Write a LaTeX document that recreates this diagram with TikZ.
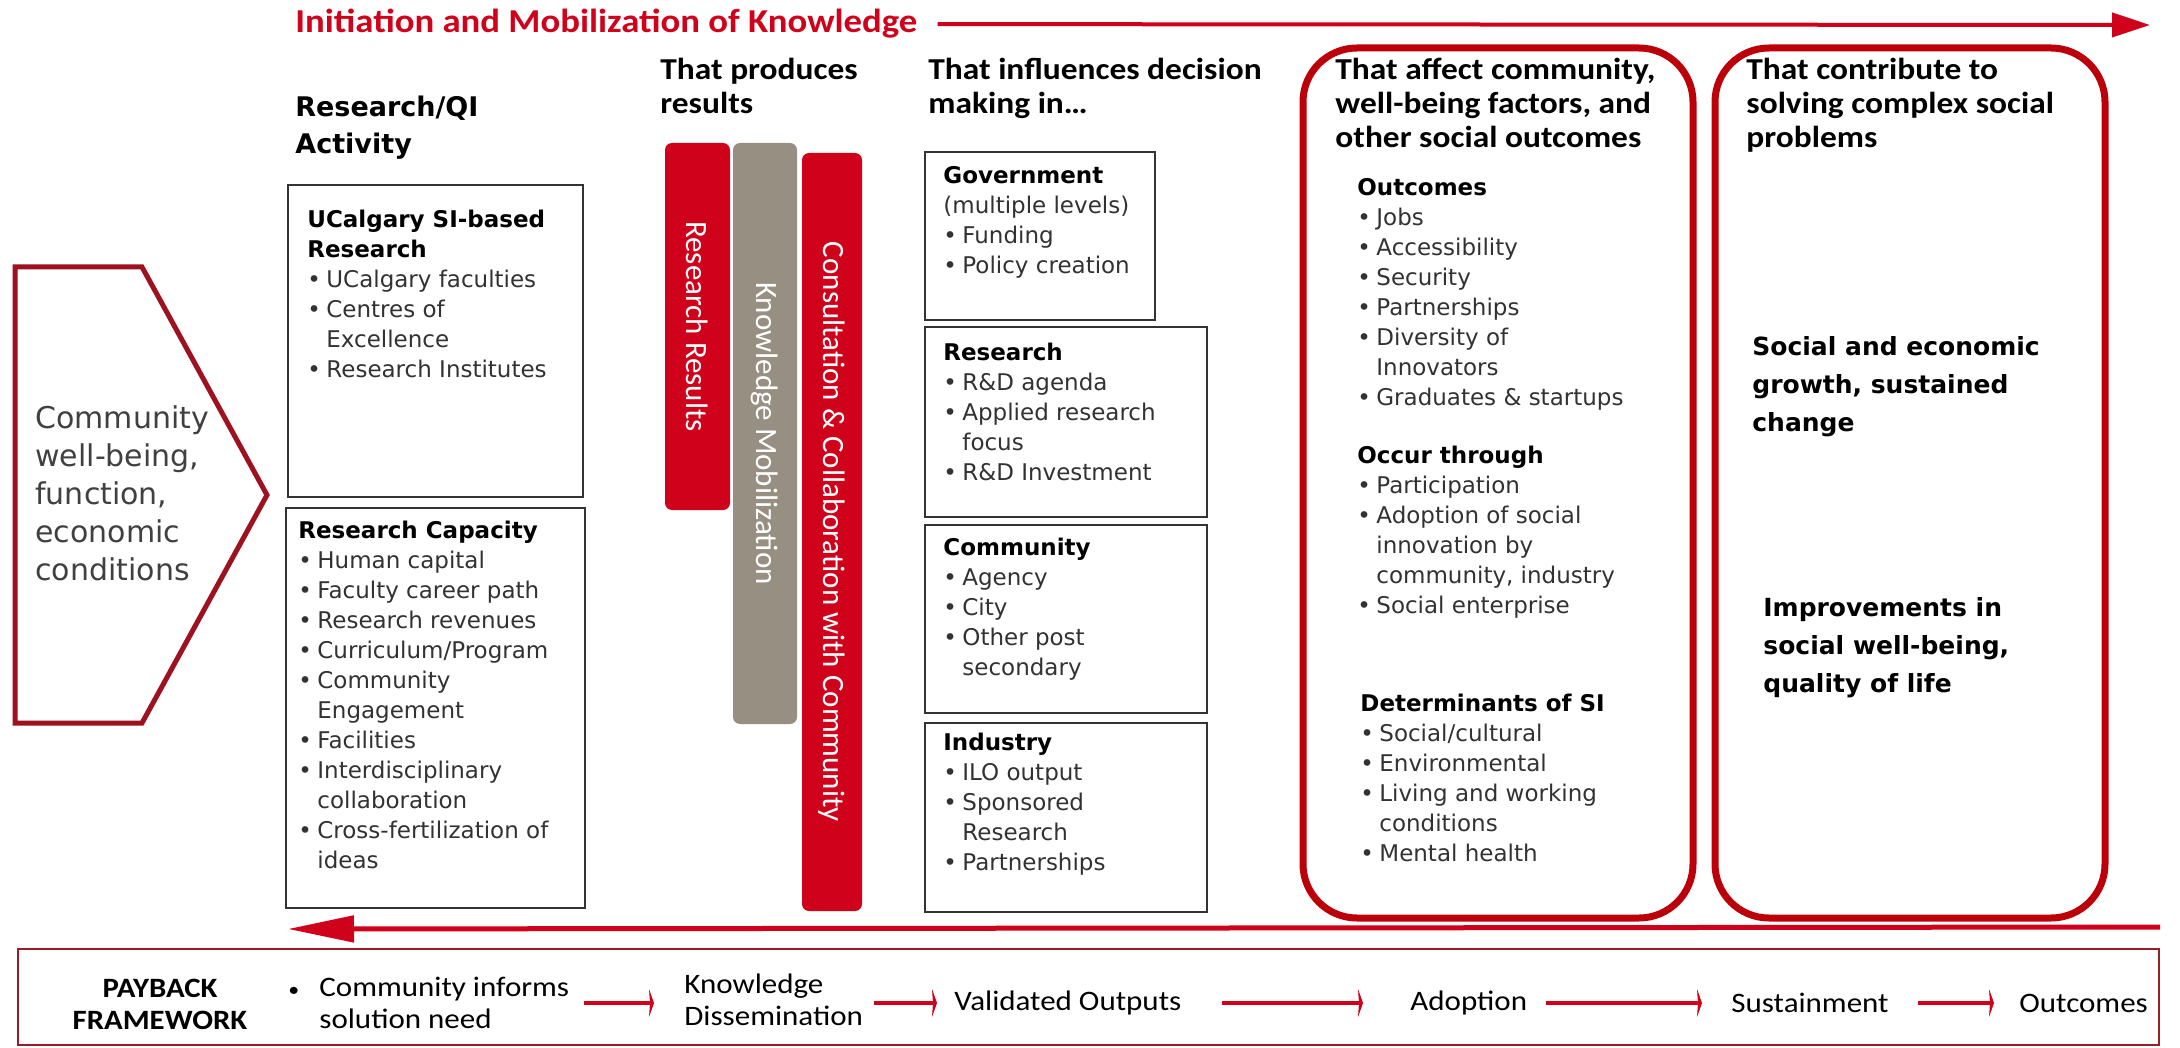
\documentclass[tikz,border=0pt]{standalone}
\usepackage{fontspec}
\setmainfont{DejaVu Sans}
\newfontfamily\calib{Carlito}[FakeStretch=1.1]
\newfontfamily\calibn{Carlito}
\usetikzlibrary{arrows.meta}
\definecolor{ured}{RGB}{208,2,27}
\definecolor{dred}{RGB}{188,0,10}
\definecolor{pred}{RGB}{158,18,32}
\definecolor{ugray}{RGB}{150,143,130}
\definecolor{txt}{RGB}{50,50,50}
\newcommand{\bl}{\makebox[9.5pt][l]{\textbullet}}
\newcommand{\bi}{\hspace*{9.5pt}}
\newcommand{\hd}[1]{\textcolor{black}{\bfseries #1}}
\tikzset{%
    hdr/.style={anchor=north west, inner sep=0pt, align=left, font=\calib\bfseries\fontsize{15.2}{17}\selectfont},
    box/.style={draw=black!80, line width=1.1pt},
    boxt/.style={anchor=north west, inner sep=0pt, align=left, text=txt, font=\fontsize{11.5}{15}\selectfont},
    bar/.style={rounded corners=3.5pt, rotate=-90, inner sep=0pt, text=white, font=\calibn\fontsize{15.5}{16}\selectfont},
    rbox/.style={draw=dred, line width=3.5pt, rounded corners=27pt},
    big/.style={anchor=north west, inner sep=0pt, align=left, font=\bfseries\fontsize{12.5}{19}\selectfont},
    pbt/.style={inner sep=0pt, align=left, font=\calib\fontsize{14.1}{16}\selectfont},
    pba/.style={draw=ured, line width=2pt, -{Stealth[length=2.5pt,width=14pt,inset=0.5pt]}},
}

\begin{document}
\begin{tikzpicture}[x=0.5pt,y=-0.5pt]
    \fill[white] (0,0) rectangle (2180,1048);
    \useasboundingbox (0,0) rectangle (2180,1048);
    % top arrow
    \node[anchor=base west, inner sep=0pt, text=ured, font=\calib\bfseries\fontsize{16.7}{18}\selectfont] (ttl) at (295,33) {Initiation and Mobilization of Knowledge};
    \coordinate (ttlend) at (2150,25);
    \draw[ured, line width=2pt, shorten <=10pt, -{Triangle[length=19pt,width=12pt]}] (ttl.east) -- (ttlend);
    % column heads
    \node[anchor=north west, inner sep=0pt, align=left, font=\bfseries\fontsize{13.5}{18.5}\selectfont] (rqi) at (295,96) {Research/QI\\Activity};
    \node[hdr] (hdprod) at (660,58) {That produces\\results};
    \node[hdr] (hdinf) at (928,58) {That influences decision\\making in…};
    \node[hdr] (hdaff) at (1335,58) {That affect community,\\well-being factors, and\\other social outcomes};
    \node[hdr] (hdcon) at (1746,58) {That contribute to\\solving complex social\\problems};
    % community pentagon
    \draw[pred, line width=2.5pt, line join=miter] (15,267) -- (142,267) -- (267,495) -- (142,723) -- (15,723) -- cycle;
    \node[anchor=north west, inner sep=0pt, align=left, text=black!75, font=\fontsize{15}{19}\selectfont] (cwb) at (35,405) {Community\\well-being,\\function,\\economic\\conditions};
    % research activity
    \draw[box] (288,185) rectangle (583,497);
    \node[boxt] (ucsi) at (307,210) {\hd{UCalgary SI-based}\\\hd{Research}\\\bl UCalgary faculties\\\bl Centres of\\\bi Excellence\\\bl Research Institutes};
    \draw[box] (286,508) rectangle (585,908);
    \node[boxt] (rcap) at (298,521) {\hd{Research Capacity}\\\bl Human capital\\\bl Faculty career path\\\bl Research revenues\\\bl Curriculum/Program\\\bl Community\\\bi Engagement\\\bl Facilities\\\bl Interdisciplinary\\\bi collaboration\\\bl Cross-fertilization of\\\bi ideas};
    % bars
    \node[bar, fill=ured, minimum width=183.5pt, minimum height=32.5pt] (rr) at (697.5,326.5) {Research Results};
    \node[bar, fill=ugray, minimum width=290.5pt, minimum height=32pt] (km) at (765,433.5) {Knowledge Mobilization};
    \node[bar, fill=ured, minimum width=379pt, minimum height=30pt] (cc) at (832,532) {Consultation \& Collaboration with Community};
    % decision making
    \draw[box] (925,152) rectangle (1155,320);
    \node[boxt] (gov) at (943,166) {\hd{Government}\\(multiple levels)\\\bl Funding\\\bl Policy creation};
    \draw[box] (925,327) rectangle (1207,517);
    \node[boxt] (res) at (943,343) {\hd{Research}\\\bl R\&D agenda\\\bl Applied research\\\bi focus\\\bl R\&D Investment};
    \draw[box] (925,525) rectangle (1207,713);
    \node[boxt] (com) at (943,538) {\hd{Community}\\\bl Agency\\\bl City\\\bl Other post\\\bi secondary};
    \draw[box] (925,723) rectangle (1207,912);
    \node[boxt] (ind) at (943,733) {\hd{Industry}\\\bl ILO output\\\bl Sponsored\\\bi Research\\\bl Partnerships};
    % outcomes
    \draw[rbox] (1303,48) rectangle (1693,918);
    \node[boxt] (outc) at (1357,178) {\hd{Outcomes}\\\bl Jobs\\\bl Accessibility\\\bl Security\\\bl Partnerships\\\bl Diversity of\\\bi Innovators\\\bl Graduates \& startups};
    \node[boxt] (occ) at (1357,446) {\hd{Occur through}\\\bl Participation\\\bl Adoption of social\\\bi innovation by\\\bi community, industry\\\bl Social enterprise};
    \node[boxt] (det) at (1360,694) {\hd{Determinants of SI}\\\bl Social/cultural\\\bl Environmental\\\bl Living and working\\\bi conditions\\\bl Mental health};
    \draw[rbox] (1715,48) rectangle (2105,918);
    \node[big] (soc) at (1752,336) {Social and economic\\growth, sustained\\change};
    \node[big] (imp) at (1763,597) {Improvements in\\social well-being,\\quality of life};
    % feedback arrow
    \coordinate (fbR) at (2160,927);
    \coordinate (fbL) at (288,929);
    \draw[ured, line width=2.5pt, -{Triangle[length=33pt,width=13pt]}] (fbR) -- (fbL);
    % payback framework
    \draw[draw={rgb,255:red,150;green,30;blue,40}, line width=1.2pt] (18,949) rectangle (2159,1045);
    \node[pbt, align=center, font=\calib\bfseries\fontsize{14}{16}\selectfont] (pbh) at (160,1004) {PAYBACK\\FRAMEWORK};
    \node[pbt, anchor=west] (pb1) at (288,1003) {\makebox[15.5pt][l]{\fontsize{10}{10}\selectfont\textbullet}Community informs\\\hspace*{15.5pt}solution need};
    \node[pbt, anchor=west] (pb2) at (684,1000) {Knowledge\\Dissemination};
    \node[pbt, anchor=west] (pb3) at (954,1003) {Validated Outputs};
    \node[pbt, anchor=west] (pb4) at (1410,1003) {Adoption};
    \node[pbt, anchor=west] (pb5) at (1731,1003) {Sustainment};
    \node[pbt, anchor=west] (pb6) at (2019,1003) {Outcomes};
    \draw[pba, shorten <=7pt, shorten >=15pt] (pb1.east) -- (pb1.east -| pb2.west);
    \draw[pba, shorten <=5.5pt, shorten >=8.5pt] (pb2.east |- pb3.west) -- (pb3.west);
    \draw[pba, shorten <=20pt, shorten >=23.5pt] (pb3.east) -- (pb4.west);
    \draw[pba, shorten <=9pt, shorten >=14.5pt] (pb4.east) -- (pb5.west);
    \draw[pba, shorten <=14.5pt, shorten >=12.5pt] (pb5.east) -- (pb6.west);
\end{tikzpicture}
\end{document}
